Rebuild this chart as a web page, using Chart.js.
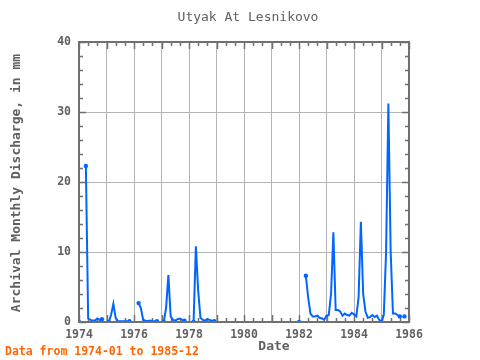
<!DOCTYPE html>
<html>
<head>
<meta charset="utf-8">
<script src="https://cdn.jsdelivr.net/npm/chart.js@4/dist/chart.umd.min.js"></script>
<style>
html,body{margin:0;padding:0;background:#fff;}
#wrap{width:480px;height:360px;position:relative;}
</style>
</head>
<body>
<div id="wrap"><canvas id="c"></canvas></div>
<script>
// Monthly discharge (mm), Jan..Dec, null = missing
const v1974 = [0, null, null, 22.3, 0.5, 0.3, 0.2, 0.2, 0.5, 0.3, 0.4, null];
const v1975 = [null, 0, 1.0, 2.6, 0.6, 0.1, 0.1, 0.1, 0.1, 0.1, 0.1, null];
const v1976 = [null, null, 2.7, 2.0, 0.3, 0.2, 0.1, 0.2, 0.1, 0.1, 0.1, null];
const v1977 = [null, 0, 2.0, 6.7, 0.8, 0.3, 0.2, 0.4, 0.5, 0.3, 0.2, null];
const v1978 = [null, null, 0, 10.8, 4.5, 0.6, 0.3, 0.2, 0.4, 0.3, 0.2, 0.1];
const v1979 = [null, null, null, null, null, null, null, null, null, null, null, null];
const v1980 = [null, null, null, null, null, null, null, null, null, null, null, null];
const v1981 = [null, null, null, null, null, null, null, null, null, null, null, null];
const v1982 = [0, null, null, 6.6, 3.5, 1.2, 0.8, 0.8, 0.9, 0.6, 0.5, 0.3];
const v1983 = [0.9, 1.0, 4.1, 12.8, 1.7, 1.7, 1.5, 0.9, 1.2, 1.0, 0.9, 1.3];
const v1984 = [1.1, 0.8, 3.5, 14.3, 4.0, 1.5, 0.6, 0.7, 1.0, 0.7, 0.9, 0.3];
const v1985 = [0.1, 1.0, 10.0, 31.2, 10.0, 1.2, 1.2, 1.0, 0.8, null, 0.8, null];

const years = [1974,1975,1976,1977,1978,1979,1980,1981,1982,1983,1984,1985];
const yearValues = [v1974,v1975,v1976,v1977,v1978,v1979,v1980,v1981,v1982,v1983,v1984,v1985];
const xTickLabels = ['1974','1976','1978','1980','1982','1984','1986'];
const yTicks = [0,10,20,30,40];

const titleText = 'Utyak At Lesnikovo';
const yTitle = 'Archival Monthly Discharge, in mm';
const xTitle = 'Date';
const noteText = 'Data from 1974-01 to 1985-12';

const points = [];
years.forEach((yr, i) => {
  yearValues[i].forEach((v, m) => {
    points.push({x: yr + m / 12, y: v});
  });
});

const MONO = '"DejaVu Sans Mono", "Liberation Mono", monospace';
const FRAME = '#707070';

const decor = {
  id: 'decor',
  beforeDatasetsDraw(chart) {
    const {ctx, chartArea: a, scales: {x, y}} = chart;
    ctx.save();
    ctx.strokeStyle = FRAME;
    ctx.lineWidth = 1.5;
    for (let k = 0; k <= 36; k++) {
      const v = 1974 + k / 3;
      const px = Math.round(x.getPixelForValue(v)) + 0.5;
      const len = (k % 3 === 0) ? 7 : 4;
      ctx.beginPath();
      ctx.moveTo(px, a.bottom); ctx.lineTo(px, a.bottom - len);
      ctx.moveTo(px, a.top); ctx.lineTo(px, a.top + len);
      ctx.stroke();
    }
    for (let v = 0; v <= 40; v += 2) {
      const py = Math.round(y.getPixelForValue(v)) + 0.5;
      const len = (v % 10 === 0) ? 7 : 4;
      ctx.beginPath();
      ctx.moveTo(a.left, py); ctx.lineTo(a.left + len, py);
      ctx.moveTo(a.right, py); ctx.lineTo(a.right - len, py);
      ctx.stroke();
    }
    ctx.restore();
  },
  afterDraw(chart) {
    const {ctx, chartArea: a} = chart;
    ctx.save();
    ctx.strokeStyle = FRAME;
    ctx.lineWidth = 2;
    ctx.strokeRect(a.left, a.top, a.right - a.left, a.bottom - a.top);
    ctx.textAlign = 'center';
    ctx.textBaseline = 'middle';
    ctx.fillStyle = '#606060';
    ctx.font = '13px ' + MONO;
    ctx.fillText(titleText, 248, 18);
    ctx.font = 'bold 13px ' + MONO;
    ctx.fillText(xTitle, 274, 347);
    ctx.save();
    ctx.translate(17, 183);
    ctx.rotate(-Math.PI / 2);
    ctx.font = 'bold 13px ' + MONO;
    ctx.fillText(yTitle, 0, 0);
    ctx.restore();
    ctx.textAlign = 'left';
    ctx.fillStyle = '#ff6600';
    ctx.font = 'bold 11.5px ' + MONO;
    ctx.fillText(noteText, 5, 352);
    ctx.restore();
  }
};

function edgeRadius(ctx) {
  const i = ctx.dataIndex;
  const d = ctx.dataset.data;
  if (d[i] == null || d[i].y == null) return 0;
  const prev = i > 0 ? d[i - 1].y : null;
  const next = i < d.length - 1 ? d[i + 1].y : null;
  return (prev == null || next == null) ? 2.2 : 0;
}

new Chart(document.getElementById('c'), {
  type: 'line',
  data: {
    datasets: [{
      data: points,
      borderColor: '#0066ff',
      backgroundColor: '#0066ff',
      borderWidth: 2,
      pointRadius: edgeRadius,
      pointBorderWidth: 0,
      pointHoverRadius: 0,
      spanGaps: false,
      tension: 0
    }]
  },
  options: {
    responsive: true,
    maintainAspectRatio: false,
    animation: false,
    events: [],
    layout: {padding: {left: 0, top: 42, right: 71, bottom: 0}},
    plugins: {legend: {display: false}, tooltip: {enabled: false}, title: {display: false}},
    scales: {
      x: {
        type: 'linear', min: 1974, max: 1986,
        afterFit(s) { s.height = 38; },
        afterBuildTicks(s) { s.ticks = []; for (let yv = 1974; yv <= 1986; yv++) s.ticks.push({value: yv}); },
        grid: {color: '#b4b4b4', lineWidth: 1, drawTicks: false},
        border: {display: false},
        ticks: {
          padding: 6, color: '#606060', maxRotation: 0, autoSkip: false,
          font: {family: MONO, size: 11.5, weight: 'bold'},
          callback: (v) => xTickLabels.includes(String(v)) ? String(v) : ''
        }
      },
      y: {
        min: 0, max: 40,
        afterFit(s) { s.width = 79; },
        afterBuildTicks(s) { s.ticks = yTicks.map(v => ({value: v})); },
        grid: {color: '#b4b4b4', lineWidth: 1, drawTicks: false},
        border: {display: false},
        ticks: {
          padding: 8, color: '#606060',
          font: {family: MONO, size: 11.5, weight: 'bold'}
        }
      }
    }
  },
  plugins: [decor]
});
</script>
</body>
</html>
